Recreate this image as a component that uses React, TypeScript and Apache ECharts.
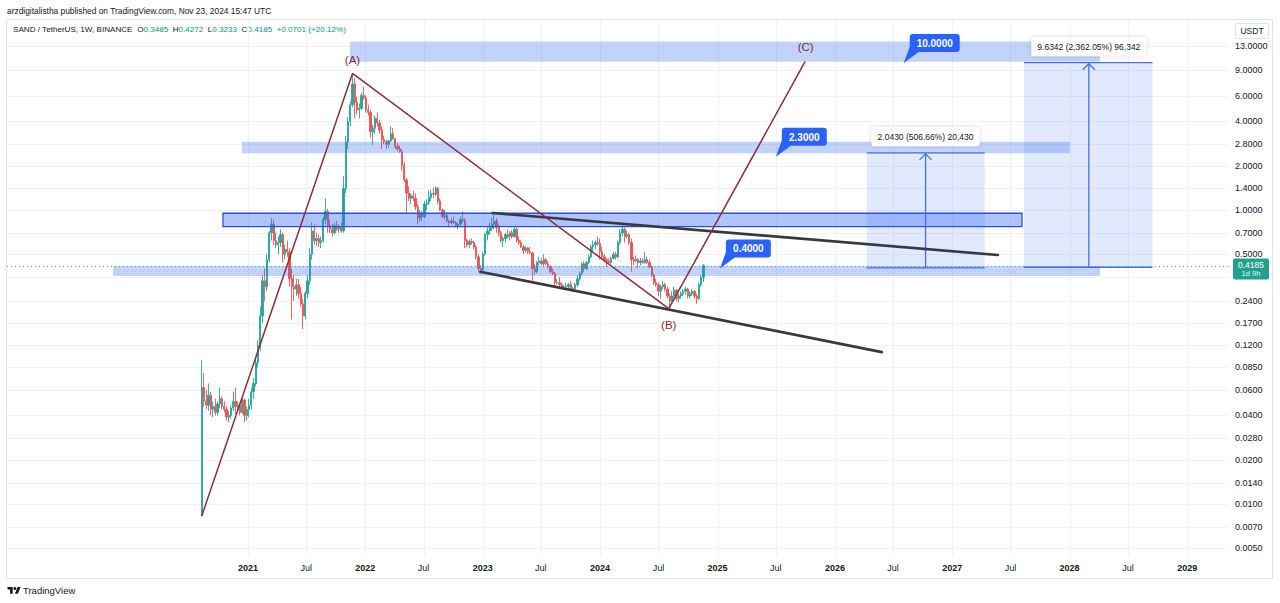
import React, { useEffect, useRef } from "react";
import * as echarts from "echarts";

// ---------------- data ----------------
const FIRST_WEEK = "2020-08-10";

// weekly candles: [open, high, low, close]
const candles2020 = [
  [0.0083, 0.095, 0.0083, 0.062], [0.062, 0.078, 0.046, 0.05], [0.05, 0.06, 0.044, 0.047],
  [0.047, 0.066, 0.043, 0.055], [0.055, 0.058, 0.04, 0.044], [0.044, 0.05, 0.039, 0.046],
  [0.046, 0.052, 0.04, 0.042], [0.042, 0.05, 0.04, 0.048], [0.048, 0.062, 0.045, 0.052],
  [0.052, 0.054, 0.044, 0.046], [0.046, 0.05, 0.042, 0.044], [0.044, 0.046, 0.037, 0.039],
  [0.039, 0.043, 0.036, 0.04], [0.04, 0.047, 0.038, 0.045], [0.045, 0.058, 0.043, 0.05],
  [0.05, 0.062, 0.041, 0.046], [0.046, 0.05, 0.042, 0.047], [0.047, 0.049, 0.04, 0.042],
  [0.042, 0.053, 0.041, 0.051], [0.051, 0.052, 0.036, 0.04], [0.04, 0.046, 0.037, 0.044],
];
const candles2021 = [
  [0.044, 0.052, 0.039, 0.047], [0.047, 0.062, 0.044, 0.058], [0.058, 0.072, 0.052, 0.066],
  [0.066, 0.1, 0.063, 0.092], [0.092, 0.13, 0.085, 0.12], [0.12, 0.22, 0.11, 0.19],
  [0.19, 0.36, 0.17, 0.33], [0.33, 0.4, 0.24, 0.3], [0.3, 0.5, 0.28, 0.46],
  [0.46, 0.72, 0.44, 0.7], [0.7, 0.88, 0.62, 0.8], [0.8, 0.86, 0.58, 0.62],
  [0.62, 0.7, 0.55, 0.58], [0.58, 0.66, 0.5, 0.6], [0.6, 0.74, 0.56, 0.68],
  [0.68, 0.7, 0.44, 0.5], [0.5, 0.58, 0.46, 0.54], [0.54, 0.62, 0.48, 0.52],
  [0.52, 0.55, 0.3, 0.34], [0.34, 0.4, 0.18, 0.3], [0.3, 0.36, 0.24, 0.29],
  [0.29, 0.34, 0.26, 0.31], [0.31, 0.34, 0.25, 0.27], [0.27, 0.3, 0.22, 0.23],
  [0.23, 0.25, 0.155, 0.19], [0.19, 0.28, 0.18, 0.27], [0.27, 0.36, 0.25, 0.33],
  [0.33, 0.55, 0.31, 0.5], [0.5, 0.82, 0.46, 0.72], [0.72, 0.8, 0.58, 0.62],
  [0.62, 0.7, 0.57, 0.64], [0.64, 0.68, 0.56, 0.6], [0.6, 0.66, 0.55, 0.62],
  [0.62, 0.9, 0.6, 0.86], [0.86, 1.2, 0.8, 0.98], [0.98, 1.02, 0.7, 0.78],
  [0.78, 0.86, 0.7, 0.74], [0.74, 0.8, 0.66, 0.7], [0.7, 0.82, 0.68, 0.78],
  [0.78, 0.84, 0.72, 0.74], [0.74, 0.8, 0.7, 0.76], [0.76, 0.82, 0.7, 0.72],
  [0.72, 1.7, 0.7, 1.4], [1.4, 3.2, 1.3, 2.9], [2.9, 4.3, 2.6, 4.0],
  [4.0, 5.5, 3.7, 5.2], [5.2, 8.49, 5.0, 7.2], [7.2, 7.9, 4.2, 5.4],
  [5.4, 5.9, 4.5, 4.8], [4.8, 5.3, 4.2, 4.9], [4.9, 6.3, 4.8, 6.0],
  [6.0, 6.9, 5.6, 5.8],
];
const candles2022 = [
  [5.8, 6.0, 4.6, 4.8], [4.8, 5.2, 4.4, 4.6], [4.6, 4.8, 3.1, 3.4],
  [3.4, 3.8, 2.75, 3.6], [3.6, 4.4, 3.3, 4.2], [4.2, 4.6, 3.7, 3.9],
  [3.9, 4.1, 3.3, 3.5], [3.5, 3.7, 2.6, 3.0], [3.0, 3.2, 2.8, 2.9],
  [2.9, 3.0, 2.6, 2.8], [2.8, 3.0, 2.65, 2.95], [2.95, 3.7, 2.9, 3.3],
  [3.3, 3.6, 3.0, 3.05], [3.05, 3.1, 2.6, 2.7], [2.7, 2.85, 2.5, 2.6],
  [2.6, 2.75, 2.45, 2.5], [2.5, 2.6, 1.85, 2.0], [2.0, 2.1, 1.55, 1.6],
  [1.6, 1.65, 0.95, 1.3], [1.3, 1.45, 1.15, 1.2], [1.2, 1.3, 1.1, 1.25],
  [1.25, 1.35, 1.15, 1.2], [1.2, 1.3, 1.0, 1.05], [1.05, 1.1, 0.8, 0.88],
  [0.88, 1.0, 0.83, 0.95], [0.95, 0.98, 0.84, 0.9], [0.9, 1.15, 0.88, 1.1],
  [1.1, 1.18, 1.0, 1.12], [1.12, 1.35, 1.08, 1.22], [1.22, 1.38, 1.15, 1.3],
  [1.3, 1.42, 1.2, 1.28], [1.28, 1.45, 1.24, 1.4], [1.4, 1.43, 1.1, 1.15],
  [1.15, 1.2, 0.98, 1.0], [1.0, 1.02, 0.88, 0.9], [0.9, 1.0, 0.86, 0.92],
  [0.92, 0.96, 0.82, 0.84], [0.84, 0.86, 0.78, 0.82], [0.82, 0.88, 0.8, 0.84],
  [0.84, 0.9, 0.8, 0.82], [0.82, 0.84, 0.76, 0.78], [0.78, 0.82, 0.74, 0.8],
  [0.8, 0.9, 0.78, 0.86], [0.86, 0.98, 0.82, 0.85], [0.85, 0.88, 0.55, 0.62],
  [0.62, 0.64, 0.56, 0.58], [0.58, 0.63, 0.55, 0.61], [0.61, 0.64, 0.58, 0.6],
  [0.6, 0.62, 0.54, 0.56], [0.56, 0.58, 0.46, 0.48], [0.48, 0.5, 0.38, 0.4],
  [0.4, 0.42, 0.37, 0.39],
];
const candles2023 = [
  [0.39, 0.52, 0.38, 0.5], [0.5, 0.7, 0.49, 0.68], [0.68, 0.76, 0.62, 0.72],
  [0.72, 0.82, 0.68, 0.76], [0.76, 0.88, 0.72, 0.8], [0.8, 0.96, 0.74, 0.84],
  [0.84, 0.88, 0.7, 0.76], [0.76, 0.8, 0.66, 0.7], [0.7, 0.72, 0.6, 0.62],
  [0.62, 0.66, 0.56, 0.64], [0.64, 0.7, 0.6, 0.68], [0.68, 0.74, 0.64, 0.66],
  [0.66, 0.72, 0.62, 0.7], [0.7, 0.73, 0.64, 0.66], [0.66, 0.76, 0.65, 0.74],
  [0.74, 0.76, 0.6, 0.62], [0.62, 0.66, 0.58, 0.6], [0.6, 0.62, 0.55, 0.56],
  [0.56, 0.58, 0.5, 0.53], [0.53, 0.57, 0.51, 0.55], [0.55, 0.56, 0.5, 0.52],
  [0.52, 0.56, 0.5, 0.51], [0.51, 0.52, 0.33, 0.4], [0.4, 0.43, 0.36, 0.38],
  [0.38, 0.45, 0.37, 0.44], [0.44, 0.48, 0.42, 0.45], [0.45, 0.47, 0.42, 0.43],
  [0.43, 0.5, 0.41, 0.46], [0.46, 0.47, 0.42, 0.43], [0.43, 0.45, 0.4, 0.41],
  [0.41, 0.42, 0.37, 0.38], [0.38, 0.4, 0.36, 0.37], [0.37, 0.38, 0.3, 0.32],
  [0.32, 0.34, 0.31, 0.32], [0.32, 0.35, 0.3, 0.31], [0.31, 0.32, 0.29, 0.3],
  [0.3, 0.31, 0.29, 0.3], [0.3, 0.32, 0.29, 0.3], [0.3, 0.32, 0.29, 0.31],
  [0.31, 0.33, 0.29, 0.29], [0.29, 0.3, 0.28, 0.29], [0.29, 0.32, 0.285, 0.31],
  [0.31, 0.36, 0.3, 0.34], [0.34, 0.38, 0.33, 0.37], [0.37, 0.44, 0.36, 0.43],
  [0.43, 0.45, 0.38, 0.4], [0.4, 0.45, 0.39, 0.44], [0.44, 0.5, 0.43, 0.48],
  [0.48, 0.58, 0.47, 0.56], [0.56, 0.62, 0.52, 0.58], [0.58, 0.62, 0.54, 0.6],
  [0.6, 0.66, 0.57, 0.59],
];
const candles2024 = [
  [0.59, 0.64, 0.46, 0.52], [0.52, 0.56, 0.46, 0.48], [0.48, 0.5, 0.44, 0.46],
  [0.46, 0.47, 0.41, 0.45], [0.45, 0.47, 0.43, 0.44], [0.44, 0.48, 0.43, 0.47],
  [0.47, 0.52, 0.46, 0.5], [0.5, 0.52, 0.46, 0.48], [0.48, 0.62, 0.47, 0.6],
  [0.6, 0.74, 0.58, 0.7], [0.7, 0.81, 0.66, 0.74], [0.74, 0.76, 0.6, 0.66],
  [0.66, 0.72, 0.64, 0.68], [0.68, 0.7, 0.58, 0.6], [0.6, 0.64, 0.38, 0.46],
  [0.46, 0.48, 0.42, 0.45], [0.45, 0.49, 0.44, 0.46], [0.46, 0.47, 0.4, 0.44],
  [0.44, 0.47, 0.42, 0.45], [0.45, 0.47, 0.43, 0.44], [0.44, 0.52, 0.43, 0.46],
  [0.46, 0.48, 0.43, 0.44], [0.44, 0.46, 0.4, 0.41], [0.41, 0.42, 0.35, 0.36],
  [0.36, 0.37, 0.31, 0.32], [0.32, 0.34, 0.3, 0.31], [0.31, 0.32, 0.26, 0.28],
  [0.28, 0.31, 0.25, 0.3], [0.3, 0.33, 0.29, 0.31], [0.31, 0.32, 0.28, 0.29],
  [0.29, 0.3, 0.25, 0.26], [0.26, 0.27, 0.213, 0.24], [0.24, 0.28, 0.235, 0.26],
  [0.26, 0.3, 0.25, 0.285], [0.285, 0.29, 0.24, 0.25], [0.25, 0.27, 0.235, 0.26],
  [0.26, 0.28, 0.25, 0.27], [0.27, 0.29, 0.26, 0.28], [0.28, 0.3, 0.265, 0.29],
  [0.29, 0.295, 0.25, 0.26], [0.26, 0.28, 0.25, 0.27], [0.27, 0.29, 0.26, 0.28],
  [0.28, 0.285, 0.25, 0.26], [0.26, 0.27, 0.23, 0.25], [0.25, 0.32, 0.245, 0.31],
  [0.31, 0.36, 0.3, 0.3484], [0.3485, 0.4272, 0.3233, 0.4185],
];
const candles = [...candles2020, ...candles2021, ...candles2022, ...candles2023, ...candles2024];

const priceTicks = [13, 9, 6, 4, 2.8, 2, 1.4, 1, 0.7, 0.5, 0.24, 0.17, 0.12, 0.085, 0.06, 0.04, 0.028, 0.02, 0.014, 0.01, 0.007, 0.005];
const hiddenGridPrices = [0.35];
const timeTicks = [
  "2021-01-01", "2021-07-01", "2022-01-01", "2022-07-01", "2023-01-01", "2023-07-01",
  "2024-01-01", "2024-07-01", "2025-01-01", "2025-07-01", "2026-01-01", "2026-07-01",
  "2027-01-01", "2027-07-01", "2028-01-01", "2028-07-01", "2029-01-01",
];
const xRange = ["2018-12-13", "2029-05-08"];
const yRange = [0.00436, 19.6];

// zones: [from, to, low price, high price]
const zones = [
  ["2021-11-14", "2028-04-05", 10.2, 14.0],
  ["2020-12-13", "2028-01-02", 2.43, 2.91],
  ["2020-10-15", "2027-08-06", 0.77, 0.95],
  ["2019-11-08", "2028-04-05", 0.356, 0.416],
];
// wave (start, A, B, C)
const wavePath = [["2020-08-10", 0.0083], ["2021-11-22", 8.49], ["2024-08-02", 0.213], ["2025-09-30", 10.2]];
const waveLabels = [["(A)", "2021-11-22", 10.5], ["(B)", "2024-08-02", 0.165], ["(C)", "2025-10-02", 12.8]];
// trend lines: [from, price, to, price]
const trendLines = [
  ["2023-02-01", 0.954, "2027-05-23", 0.494],
  ["2022-12-24", 0.38, "2026-05-27", 0.108],
];
// target callouts: [text, date, price]
const targets = [["10.0000", "2026-08-03", 10.0], ["2.3000", "2025-07-01", 2.3], ["0.4000", "2025-01-08", 0.4]];
// measures: [from, to, arrow date, base price, target price, label]
const measures = [
  ["2026-04-10", "2027-04-12", "2026-10-10", 0.4032, 2.4462, "2.0430 (506.66%) 20,430"],
  ["2027-08-12", "2028-09-15", "2028-03-01", 0.4079, 10.042, "9.6342 (2,362.05%) 96,342"],
];
const publishedLine = "arzdigitalistha published on TradingView.com, Nov 23, 2024 15:47 UTC";
const symbolLine = "SAND / TetherUS, 1W, BINANCE";
const countdown = "1d 9h";

// ---------------- helpers ----------------
const FONT = '"Liberation Sans", Arial, sans-serif';
const T = (s: string) => Date.parse(s + "T00:00:00Z");
const lg = (v: number) => Math.log10(v);
const WEEK = 7 * 86400000;
const UP = "#26a69a";
const DOWN = "#ef5350";
const GRID = "#f0f2f7";
const BLUE = "#2962ff";
const MBLUE = "#4770de";
const TEXT = "#131722";

let mctx: CanvasRenderingContext2D | null = null;
function textWidth(text: string, font: string) {
  if (!mctx) mctx = document.createElement("canvas").getContext("2d");
  if (!mctx) return text.length * 6;
  mctx.font = font;
  return mctx.measureText(text).width;
}

try {
  echarts.graphic.registerShape(
    "tvlogo",
    echarts.graphic.extendPath("M14 22H7V11H0V4h14v18zM28 22h-8l7.5-18h8L28 22z", {}) as any
  );
} catch (e) {}

function buildOption() {
  const t0 = T(FIRST_WEEK);
  const candleData = candles.map((c, i) => [t0 + i * WEEK, lg(c[0]), lg(c[3]), lg(c[2]), lg(c[1])]);
  const last = candles[candles.length - 1];
  const prev = candles[candles.length - 2];
  const change = last[3] - prev[3];
  const pct = (change / prev[3]) * 100;
  const sep = "  ";
  const headerRich =
    `{d|${symbolLine}}${sep}{d|O}{g|${last[0].toFixed(4)}}${sep}{d|H}{g|${last[1].toFixed(4)}}${sep}` +
    `{d|L}{g|${last[2].toFixed(4)}}${sep}{d|C}{g|${last[3].toFixed(4)}}${sep}{g|+${change.toFixed(4)} (+${pct.toFixed(2)}%)}`;
  const hFont = `8.1px ${FONT}`;

  return {
    animation: false,
    backgroundColor: "#ffffff",
    grid: { left: 7, right: 52, top: 20, bottom: 46 },
    xAxis: {
      type: "value",
      min: T(xRange[0]),
      max: T(xRange[1]),
      axisLine: { show: false },
      axisTick: { show: false },
      splitLine: { show: false },
      axisLabel: {
        customValues: timeTicks.map(T),
        margin: 6,
        formatter: (v: number) => {
          const d = new Date(v);
          return d.getUTCMonth() === 0 ? `{y|${d.getUTCFullYear()}}` : "{m|Jul}";
        },
        rich: {
          y: { fontSize: 9, fontWeight: "bold", color: TEXT, fontFamily: FONT },
          m: { fontSize: 9, color: TEXT, fontFamily: FONT },
        },
      },
    },
    yAxis: {
      type: "value",
      position: "right",
      min: lg(yRange[0]),
      max: lg(yRange[1]),
      axisLine: { show: false },
      axisTick: { show: false },
      splitLine: { show: false },
      axisLabel: {
        customValues: priceTicks.map(lg),
        formatter: (v: number) => Math.pow(10, v).toFixed(4),
        color: TEXT,
        fontSize: 9,
        fontFamily: FONT,
        margin: 7,
      },
    },
    graphic: [
      { type: "rect", silent: true, shape: { x: 6.5, y: 19.5, width: 1266, height: 559 }, style: { fill: "none", stroke: "#e0e3eb", lineWidth: 1 } },
      { type: "text", x: 7, y: 11, style: { text: publishedLine, font: `8.4px ${FONT}`, fill: TEXT, verticalAlign: "middle" } },
      {
        type: "text", x: 13, y: 29.5,
        style: {
          text: headerRich, verticalAlign: "middle", font: hFont,
          rich: { d: { fill: TEXT, font: hFont }, g: { fill: "#089981", font: hFont } },
        },
      },
      { type: "rect", shape: { x: 1235.5, y: 23.5, width: 33, height: 15, r: 2 }, style: { fill: "#fff", stroke: "#e0e3eb", lineWidth: 1 } },
      { type: "text", x: 1252, y: 31, style: { text: "USDT", font: `8.5px ${FONT}`, fill: TEXT, align: "center", verticalAlign: "middle" } },
      { type: "tvlogo", x: 7.5, y: 585.5, scaleX: 0.37, scaleY: 0.37, style: { fill: TEXT } },
      { type: "circle", shape: { cx: 7.5 + 20 * 0.37, cy: 585.5 + 8 * 0.37, r: 4 * 0.37 }, style: { fill: TEXT } },
      { type: "text", x: 23, y: 590.5, style: { text: "TradingView", font: `9.5px ${FONT}`, fill: TEXT, verticalAlign: "middle" } },
    ],
    series: [
      {
        type: "custom", name: "gridH", silent: true, z: 0,
        data: [...priceTicks, ...hiddenGridPrices].map((p) => [T(xRange[0]), lg(p)]),
        renderItem: (params: any, api: any) => {
          const cs = params.coordSys;
          const y = Math.round(api.coord([api.value(0), api.value(1)])[1]) + 0.5;
          return { type: "line", shape: { x1: cs.x, y1: y, x2: cs.x + cs.width, y2: y }, style: { stroke: GRID, lineWidth: 1 } };
        },
      },
      {
        type: "custom", name: "gridV", silent: true, z: 0,
        data: timeTicks.map((t) => [T(t), lg(yRange[0])]),
        renderItem: (params: any, api: any) => {
          const cs = params.coordSys;
          const x = Math.round(api.coord([api.value(0), api.value(1)])[0]) + 0.5;
          return { type: "line", shape: { x1: x, y1: cs.y, x2: x, y2: cs.y + cs.height }, style: { stroke: GRID, lineWidth: 1 } };
        },
      },
      {
        type: "candlestick", name: "SANDUSDT", z: 2, silent: true,
        data: candleData,
        encode: { x: 0, y: [1, 2, 3, 4] },
        barWidth: 1.8,
        itemStyle: { color: UP, color0: DOWN, borderColor: UP, borderColor0: DOWN, borderWidth: 0.9 },
        markLine: {
          silent: true, symbol: ["none", "none"], animation: false,
          label: { show: false },
          lineStyle: { color: UP, type: [1, 3], width: 1, opacity: 0.8 },
          data: [{ yAxis: lg(last[3]) }],
        },
      },
      {
        type: "custom", name: "zones", silent: true, z: 3,
        data: zones.map((z) => [T(z[0] as string), lg(z[2] as number), T(z[1] as string), lg(z[3] as number)]),
        encode: { x: [0, 2], y: [1, 3] },
        renderItem: (params: any, api: any) => {
          const a = api.coord([api.value(0), api.value(1)]);
          const b = api.coord([api.value(2), api.value(3)]);
          const strong = params.dataIndex === 2;
          return {
            type: "rect",
            shape: { x: a[0], y: b[1], width: b[0] - a[0], height: a[1] - b[1] },
            style: strong
              ? { fill: "rgba(41,98,255,0.38)", stroke: "#2d52c8", lineWidth: 1.3 }
              : { fill: "rgba(50,110,240,0.3)" },
          };
        },
      },
      {
        type: "custom", name: "measures", silent: true, z: 3,
        data: measures.map((m) => [T(m[0] as string), lg(m[3] as number), T(m[1] as string), lg(m[4] as number), T(m[2] as string)]),
        encode: { x: [0, 2, 4], y: [1, 3] },
        renderItem: (params: any, api: any) => {
          const a = api.coord([api.value(0), api.value(1)]);
          const b = api.coord([api.value(2), api.value(3)]);
          const m = api.coord([api.value(4), api.value(1)]);
          const L = a[0], R = b[0], B = a[1], Tp = b[1], M = m[0];
          const label = measures[params.dataIndex][5] as string;
          const ls = { stroke: MBLUE, lineWidth: 1.3 };
          return {
            type: "group",
            children: [
              { type: "rect", shape: { x: L, y: Tp, width: R - L, height: B - Tp }, style: { fill: "rgba(41,98,255,0.14)" } },
              { type: "line", shape: { x1: L, y1: Tp, x2: R, y2: Tp }, style: ls },
              { type: "line", shape: { x1: L, y1: B, x2: R, y2: B }, style: ls },
              { type: "line", shape: { x1: M, y1: B, x2: M, y2: Tp + 1 }, style: ls },
              { type: "polyline", shape: { points: [[M - 6, Tp + 7], [M, Tp + 1], [M + 6, Tp + 7]] }, style: { ...ls, fill: null } },
              {
                type: "text", x: M, y: Tp - 16, z2: 10,
                style: {
                  text: label, font: `8.5px ${FONT}`, fill: TEXT, align: "center", verticalAlign: "middle",
                  backgroundColor: "#ffffff", padding: [5, 6, 5, 6], borderRadius: 2,
                  shadowBlur: 4, shadowColor: "rgba(0,0,0,0.18)",
                },
              },
            ],
          };
        },
      },
      {
        type: "line", name: "wave", silent: true, z: 4, showSymbol: false,
        data: wavePath.map((p) => [T(p[0] as string), lg(p[1] as number)]),
        lineStyle: { color: "#8a2f35", width: 1.5 },
      },
      {
        type: "custom", name: "trend", silent: true, z: 4,
        data: trendLines.map((l) => [T(l[0] as string), lg(l[1] as number), T(l[2] as string), lg(l[3] as number)]),
        encode: { x: [0, 2], y: [1, 3] },
        renderItem: (params: any, api: any) => {
          const p = api.coord([api.value(0), api.value(1)]);
          const q = api.coord([api.value(2), api.value(3)]);
          return { type: "line", shape: { x1: p[0], y1: p[1], x2: q[0], y2: q[1] }, style: { stroke: "#383842", lineWidth: 2.7, lineCap: "round" } };
        },
      },
      {
        type: "custom", name: "waveLabels", silent: true, z: 5,
        data: waveLabels.map((l) => [T(l[1] as string), lg(l[2] as number)]),
        renderItem: (params: any, api: any) => {
          const p = api.coord([api.value(0), api.value(1)]);
          return {
            type: "text", x: p[0], y: p[1],
            style: { text: waveLabels[params.dataIndex][0] as string, font: `11.5px ${FONT}`, fill: "#7f2b30", align: "center", verticalAlign: "middle" },
          };
        },
      },
      {
        type: "custom", name: "targets", silent: true, z: 5,
        data: targets.map((t) => [T(t[1] as string), lg(t[2] as number)]),
        renderItem: (params: any, api: any) => {
          const [x, y] = api.coord([api.value(0), api.value(1)]);
          const text = targets[params.dataIndex][0] as string;
          const font = `bold 10px ${FONT}`;
          const w = Math.round(textWidth(text, font)) + 14;
          const h = 18;
          const bx = x + 6, by = y - 29;
          return {
            type: "group",
            children: [
              { type: "polygon", shape: { points: [[x, y], [bx, by + h - 5], [bx + 9, by + h]] }, style: { fill: BLUE } },
              { type: "rect", shape: { x: bx, y: by, width: w, height: h, r: 3 }, style: { fill: BLUE } },
              { type: "text", x: bx + w / 2, y: by + h / 2 + 0.5, style: { text, fill: "#ffffff", font, align: "center", verticalAlign: "middle" } },
            ],
          };
        },
      },
      {
        type: "custom", name: "priceTag", silent: true, z: 6,
        data: [[T(xRange[1]), lg(last[3])]],
        renderItem: (params: any, api: any) => {
          const cs = params.coordSys;
          const y = api.coord([api.value(0), api.value(1)])[1];
          const x0 = cs.x + cs.width + 5;
          return {
            type: "group",
            children: [
              { type: "rect", shape: { x: x0, y: y - 7, width: 36, height: 21, r: 2 }, style: { fill: "#22a08f" } },
              { type: "text", x: x0 + 18, y: y - 0.5, style: { text: last[3].toFixed(4), fill: "#fff", font: `8.5px ${FONT}`, align: "center", verticalAlign: "middle" } },
              { type: "text", x: x0 + 18, y: y + 8, style: { text: countdown, fill: "#e6f6f3", font: `7.5px ${FONT}`, align: "center", verticalAlign: "middle" } },
            ],
          };
        },
      },
    ],
  };
}

export default function App() {
  const ref = useRef<HTMLDivElement>(null);
  useEffect(() => {
    document.body.style.margin = "0";
    if (!ref.current) return;
    const chart = echarts.init(ref.current, null, { renderer: "svg" });
    chart.setOption(buildOption() as any);
    return () => chart.dispose();
  }, []);
  return <div ref={ref} style={{ width: 1280, height: 603, background: "#fff" }} />;
}
